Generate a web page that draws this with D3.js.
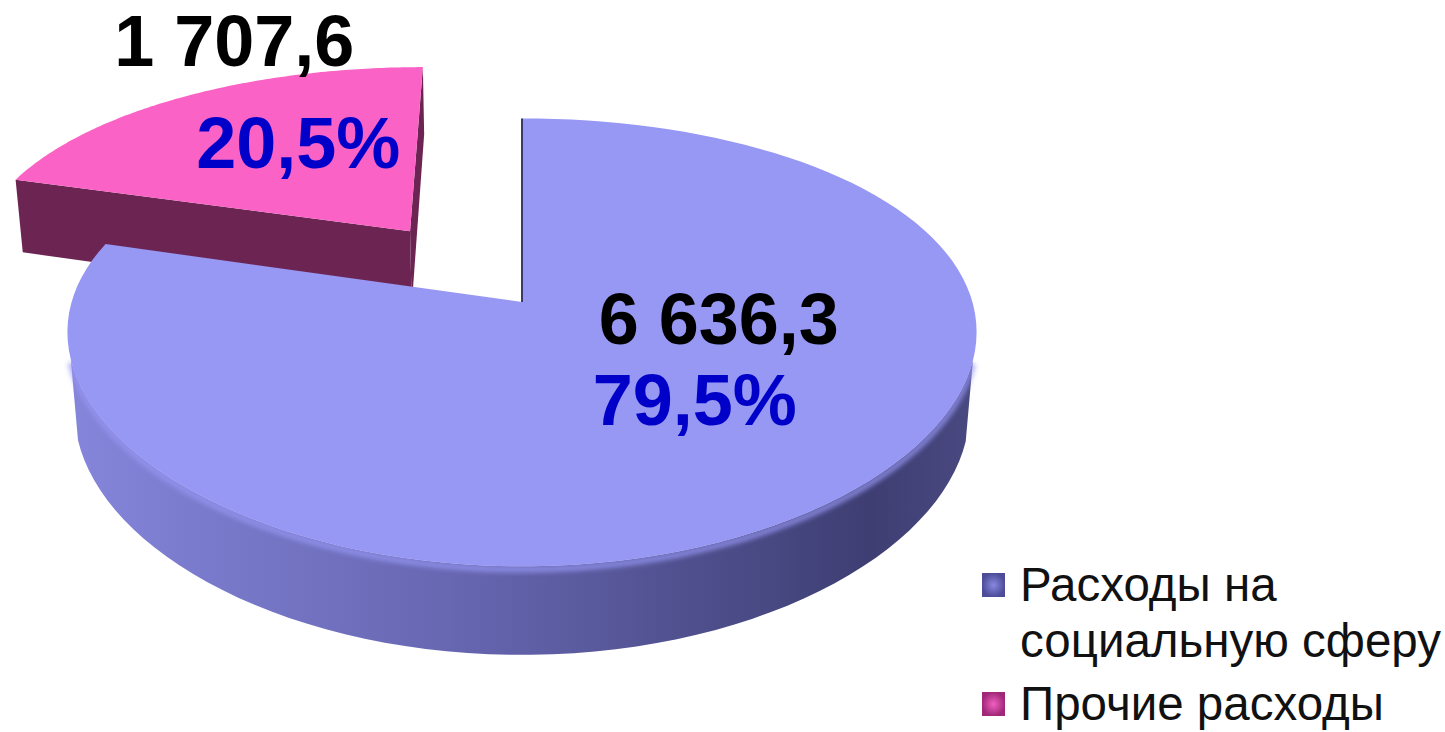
<!DOCTYPE html>
<html>
<head>
<meta charset="utf-8">
<script src="https://cdn.jsdelivr.net/npm/d3@7"></script>
<style>
  html, body { margin: 0; padding: 0; background: #fff; }
  svg { display: block; }
</style>
</head>
<body>
<div id="chart"></div>
<script>
// data
var categories = ["Расходы на социальную сферу", "Прочие расходы"];
var legendLines = [["Расходы на", "социальную сферу"], ["Прочие расходы"]];
var values = [6636.3, 1707.6];
var explode = [0, 0.434];

var topColors = ["#9797f4", "#fb62c6"];
var sideColors = [["#8585db", "#6464ae", "#3e3e73", "#4a4a82"], ["#7a2a5c", "#6c2553", "#5e2048", "#5e2048"]];

var width = 1445, height = 732;

var ru = d3.formatLocale({ decimal: ",", thousands: "\u00a0", grouping: [3] });
var fmtValue = ru.format(",.1f"),
    fmtPct = ru.format(".1%");

// perspective camera for the 3d disc (x uses a weaker perspective)
var cx = 522, cy = 302, fx = 2180, fy = 2150, D = 4.84, gx = 0.75,
    tilt = 29.2 * Math.PI / 180, H = 0.206;
var cosT = Math.cos(tilt), sinT = Math.sin(tilt);
var cam = [0, D * sinT, -D * cosT];

function proj(X, Y, Z) {
  var dz = Z * cosT - Y * sinT;
  return [cx + fx * X / (D + gx * dz), cy - fy * (Y * cosT + Z * sinT) / (D + dz)];
}

var svg = d3.select("#chart").append("svg")
  .attr("width", width)
  .attr("height", height);

var defs = svg.append("defs");
sideColors.forEach(function(c, i) {
  var g = defs.append("linearGradient")
    .attr("id", "side" + i)
    .attr("gradientUnits", "userSpaceOnUse")
    .attr("x1", 70).attr("x2", 980).attr("y1", 0).attr("y2", 0);
  g.selectAll("stop").data(c).join("stop")
    .attr("offset", function(d, j) { return [0, 0.45, 0.88, 1][j]; })
    .attr("stop-color", function(d) { return d; });
});
defs.append("filter").attr("id", "soft")
  .append("feGaussianBlur").attr("stdDeviation", 2.5);

var pie = d3.pie().sort(null).startAngle(0).endAngle(2 * Math.PI);
var arcs = pie(values);

var line = d3.line();

function sliceGeom(d, i) {
  var mid = (d.startAngle + d.endAngle) / 2;
  var ox = explode[i] * Math.sin(mid), oz = explode[i] * Math.cos(mid);
  var n = 120, rim = [];
  for (var k = 0; k <= n; k++) {
    rim.push(d.startAngle + (d.endAngle - d.startAngle) * k / n);
  }
  return { ox: ox, oz: oz, rim: rim, d: d };
}

function visible(P, nrm) {
  return (cam[0] - P[0]) * nrm[0] + (cam[1] - P[1]) * nrm[1] + (cam[2] - P[2]) * nrm[2] > 0;
}

function drawSlice(g, geo, i) {
  var ox = geo.ox, oz = geo.oz, d = geo.d;
  var grp = g.append("g").attr("class", "slice slice-" + i);

  // cut faces
  [[d.startAngle, -1], [d.endAngle, 1]].forEach(function(e) {
    var a = e[0], s = e[1];
    var nrm = [s * Math.cos(a), 0, -s * Math.sin(a)];
    if (!visible([ox, 0, oz], nrm)) return;
    var pts = [proj(ox, 0, oz), proj(ox + Math.sin(a), 0, oz + Math.cos(a)),
               proj(ox + Math.sin(a), -H, oz + Math.cos(a)), proj(ox, -H, oz)];
    grp.append("path")
      .attr("d", line(pts) + "Z")
      .attr("fill", sideColors[i][1]);
  });

  // outer wall, only the parts facing the camera
  var runs = [], cur = null;
  geo.rim.forEach(function(t) {
    var P = [ox + Math.sin(t), 0, oz + Math.cos(t)];
    if (visible(P, [Math.sin(t), 0, Math.cos(t)])) {
      if (!cur) { cur = []; runs.push(cur); }
      cur.push(t);
    } else cur = null;
  });
  runs.forEach(function(run) {
    var topPts = run.map(function(t) { return proj(ox + Math.sin(t), 0, oz + Math.cos(t)); });
    var botPts = run.map(function(t) { return proj(ox + Math.sin(t), -H, oz + Math.cos(t)); }).reverse();
    grp.append("path")
      .attr("d", line(topPts.concat(botPts)) + "Z")
      .attr("fill", "url(#side" + i + ")");
    // soft light rim along the top edge
    grp.append("path")
      .attr("d", line(topPts.map(function(p) { return [p[0], p[1] + 3]; })))
      .attr("fill", "none")
      .attr("stroke", topColors[i])
      .attr("stroke-width", 6)
      .attr("opacity", 0.8)
      .attr("filter", "url(#soft)");
  });

  // top face
  var facePts = [proj(ox, 0, oz)].concat(geo.rim.map(function(t) {
    return proj(ox + Math.sin(t), 0, oz + Math.cos(t));
  }));
  grp.append("path")
    .attr("d", line(facePts) + "Z")
    .attr("fill", topColors[i]);
}

var geos = arcs.map(sliceGeom);
var pieG = svg.append("g");
// back slice first
drawSlice(pieG, geos[1], 1);
drawSlice(pieG, geos[0], 0);

// thin dark edge where the big slice starts
pieG.append("path")
  .attr("d", line([proj(0, 0, 0), proj(0, 0, 1)]))
  .attr("stroke", "#3a3a6a")
  .attr("stroke-width", 2);

// labels
var labelR = [0.5, 0.7];
var valueOff = [[54, -77], [-15, -92]],
    pctOff = [[30, 4], [49, 10]];

var labels = svg.append("g").selectAll("g")
  .data(geos)
  .join("g")
  .attr("transform", function(g, i) {
    var mid = (g.d.startAngle + g.d.endAngle) / 2;
    var p = proj(g.ox + labelR[i] * Math.sin(mid), 0, g.oz + labelR[i] * Math.cos(mid));
    return "translate(" + p[0] + "," + p[1] + ")";
  })
  .attr("font-family", "'Liberation Sans', Arial, sans-serif")
  .attr("font-weight", "bold")
  .attr("font-size", "72px")
  .attr("text-anchor", "middle");

labels.append("text")
  .attr("x", function(g, i) { return valueOff[i][0]; })
  .attr("y", function(g, i) { return valueOff[i][1]; })
  .attr("dy", "0.35em")
  .attr("fill", "#000")
  .text(function(g) { return fmtValue(g.d.value); });

labels.append("text")
  .attr("x", function(g, i) { return pctOff[i][0]; })
  .attr("y", function(g, i) { return pctOff[i][1]; })
  .attr("dy", "0.35em")
  .attr("fill", "#0000c8")
  .text(function(g) { return fmtPct(g.d.value / d3.sum(values)); });

// legend
var legendColors = [["#8888e0", "#4c4c98"], ["#f060c0", "#a02878"]];
var legend = svg.append("g")
  .attr("transform", "translate(982,573)")
  .attr("font-family", "'Liberation Sans', Arial, sans-serif")
  .attr("font-size", "47.5px")
  .attr("fill", "#111");

var item = legend.selectAll("g")
  .data(categories)
  .join("g")
  .attr("transform", function(d, i) { return "translate(0," + (i * 119) + ")"; });

item.each(function(d, i) {
  var lg = defs.append("radialGradient").attr("id", "mk" + i);
  lg.append("stop").attr("offset", 0).attr("stop-color", legendColors[i][0]);
  lg.append("stop").attr("offset", 1).attr("stop-color", legendColors[i][1]);
});

item.append("rect")
  .attr("width", 23)
  .attr("height", 24)
  .attr("fill", function(d, i) { return "url(#mk" + i + ")"; });

item.append("text")
  .attr("x", 38)
  .attr("y", 28)
  .selectAll("tspan")
  .data(function(d, i) { return legendLines[i]; })
  .join("tspan")
  .attr("x", 38)
  .attr("dy", function(d, j) { return j ? 56 : 0; })
  .text(function(d) { return d; });
</script>
</body>
</html>
